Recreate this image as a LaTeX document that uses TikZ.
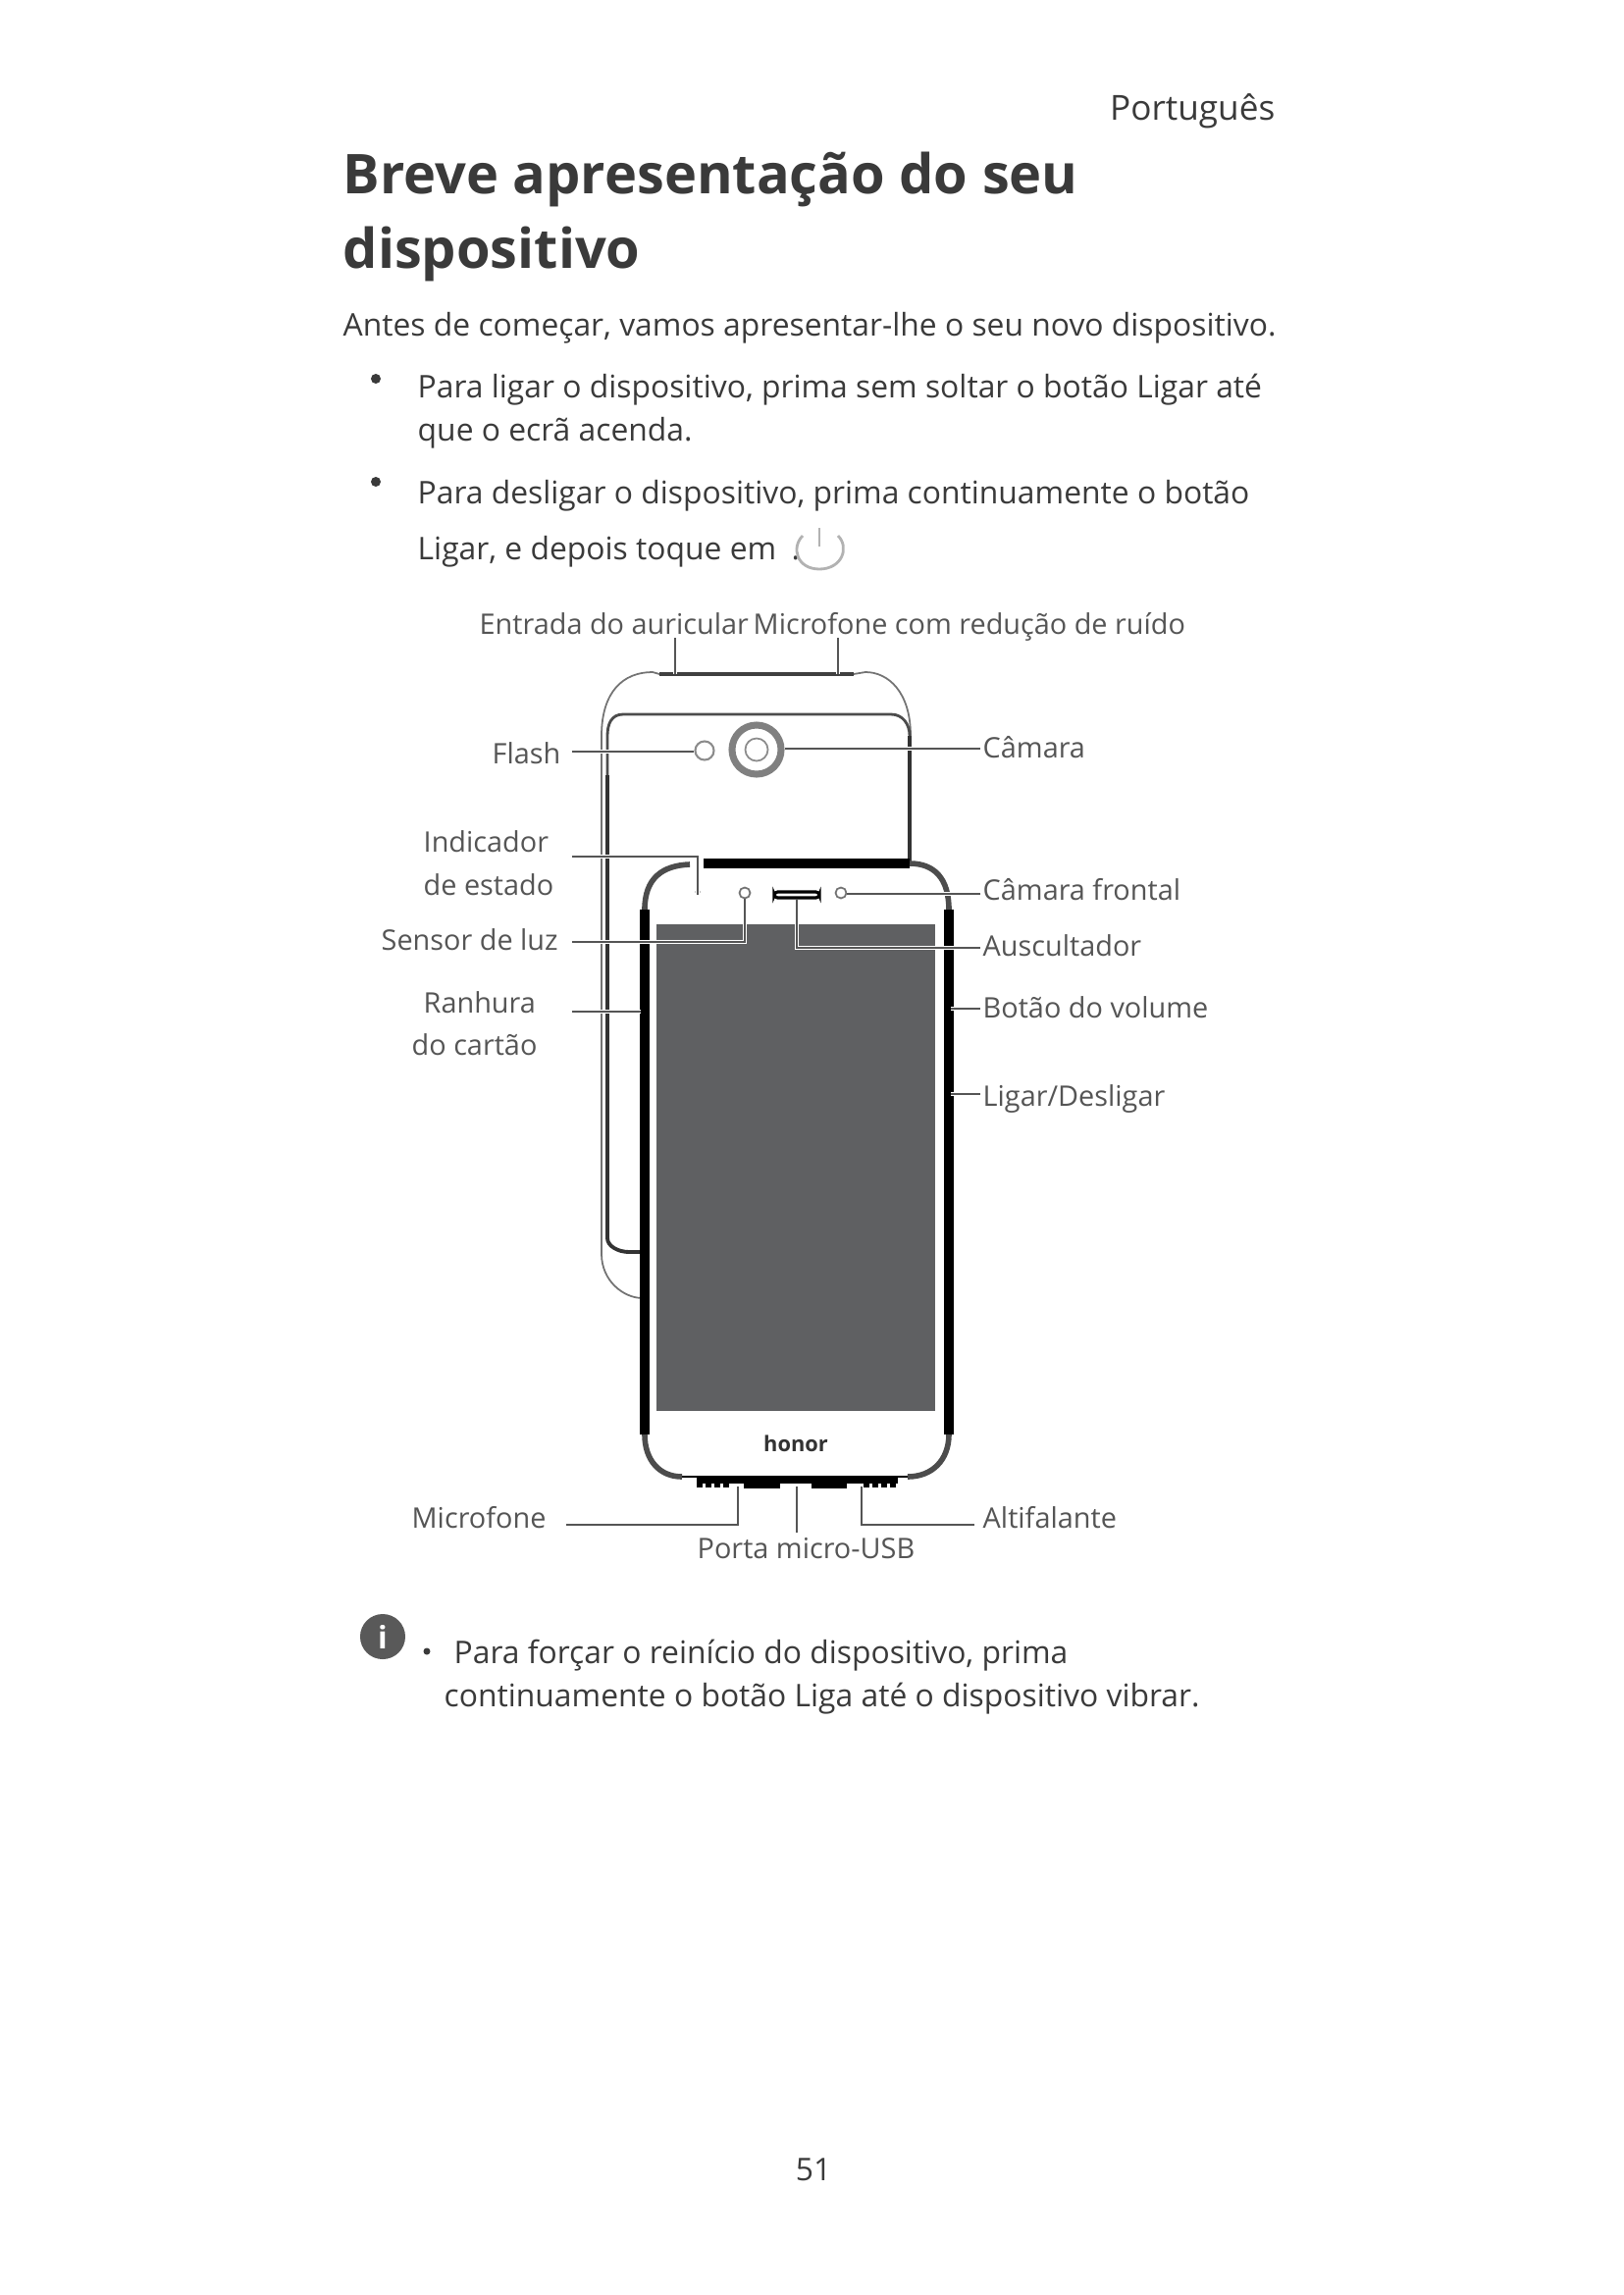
\documentclass[tikz,border=0pt]{standalone}
\usepackage{fontspec}
\setmainfont{Open Sans}
\usetikzlibrary{arrows.meta,positioning,calc}
\definecolor{bodyc}{HTML}{3A3A3A}
\definecolor{labelc}{HTML}{555555}
\definecolor{screenc}{HTML}{5F6062}
\tikzset{
 bodytxt/.style={anchor=base west,inner sep=0pt,text=bodyc,font=\fontsize{9.05pt}{10pt}\selectfont},
 labeltxt/.style={anchor=base west,inner sep=0pt,text=labelc,font=\fontsize{8.2pt}{10pt}\selectfont},
 titletxt/.style={anchor=base west,inner sep=0pt,text=bodyc,font=\fontsize{15.9pt}{16pt}\selectfont\bfseries},
 leader/.style={draw=labelc,line width=0.6pt,preaction={draw=white,line width=1.4pt}},
 thinline/.style={draw=black!55,line width=0.5pt},
 frame/.style={draw=black,line width=2.6pt},
 corner/.style={draw=black!70,line width=1.6pt},
 ringpart/.style={circle,draw=black!55,line width=0.5pt,inner sep=0pt},
 dotbullet/.style={circle,fill=bodyc,inner sep=0pt,minimum size=0.1cm}
}
\begin{document}
\begin{tikzpicture}[x=0.01cm,y=-0.01cm]
\useasboundingbox (0,0) rectangle (1654,2339);
% page text
\node[bodytxt,anchor=base east,font=\fontsize{10pt}{10pt}\selectfont] (lang) at (1300,122) {Português};
\node[titletxt] (title1) at (349,197) {Breve apresentação do seu};
\node[titletxt] (title2) at (349,273) {dispositivo};
\node[bodytxt] (intro) at (349,342) {Antes de começar, vamos apresentar-lhe o seu novo dispositivo.};
\foreach \n/\y/\t in {on1/405/{Para ligar o dispositivo, prima sem soltar o botão Ligar até},on2/449/{que o ecrã acenda.},off1/513/{Para desligar o dispositivo, prima continuamente o botão},off2/570/{Ligar, e depois toque em}}
 { \node[bodytxt] (\n) at (425,\y) {\t}; }
\node[dotbullet] (bullet1) at (383,386) {};
\node[dotbullet] (bullet2) at (383,491) {};
\node[bodytxt] (stop) at (806,570) {.};
% power icon
\draw[black!30,line width=0.8pt] (818,546) .. controls (806,558) and (812,580) .. (835,580) .. controls (858,580) and (866,558) .. (854,546);
\draw[black!30,line width=0.8pt] (835,538) -- (835,557);
% back of the phone
\draw[thinline] (613,1278) -- (613,750) .. controls (613,705) and (635,685) .. (665,685) -- (672,687);
\draw[thinline] (870,687) -- (882,685) .. controls (905,685) and (928,705) .. (928,750);
\draw[black!75,line width=1pt] (672,687) -- (870,687);
\draw[black!70,line width=0.8pt] (619,790) -- (619,750) .. controls (619,738) and (623,728) .. (635,728) -- (908,728) .. controls (920,728) and (927,738) .. (927,750);
\draw[black!80,line width=1.1pt] (619,790) -- (619,1262) .. controls (619,1270) and (630,1276) .. (641,1276) -- (655,1276);
\draw[black!80,line width=1.4pt] (927,750) -- (927,880);
\draw[thinline] (613,1278) .. controls (613,1305) and (635,1323) .. (655,1323);
\node[circle,draw=black!45,line width=0.6pt,inner sep=0pt,minimum size=0.19cm] (flash) at (718,765) {};
\node[circle,draw=black!50,line width=2pt,inner sep=0pt,minimum size=0.5cm] (cam) at (771,764) {};
\node[circle,draw=black!45,line width=0.5pt,inner sep=0pt,minimum size=0.23cm] (camlens) at (771,764) {};
% front of the phone
\fill[white] (657,927) .. controls (657,895) and (675,880) .. (703,880) -- (927,880) .. controls (952,880) and (967,895) .. (967,927) -- (967,1462) .. controls (967,1488) and (950,1505) .. (925,1505) -- (695,1505) .. controls (672,1505) and (657,1488) .. (657,1462) -- cycle;
\draw[frame] (657,927) -- (657,1462);
\draw[frame] (967,927) -- (967,1462);
\draw[draw=black,line width=2.8pt] (717,880) -- (927,880);
\draw[corner] (657,927) .. controls (657,895) and (675,882) .. (703,881);
\draw[corner] (927,880) .. controls (952,880) and (967,895) .. (967,927);
\draw[corner] (657,1462) .. controls (657,1488) and (672,1505) .. (695,1505);
\draw[corner] (925,1505) .. controls (950,1505) and (967,1488) .. (967,1462);
\draw[draw=black,line width=0.8pt] (695,1505) -- (925,1505);
\draw[draw=black,line width=1.6pt] (710,1509) -- (915,1509);
\draw[draw=black,line width=2.4pt] (758,1513) -- (795,1513);
\draw[draw=black,line width=2.4pt] (827,1513) -- (863,1513);
\draw[black,line width=1.3pt,dash pattern=on 1.6pt off 1pt] (710,1514) -- (745,1514);
\draw[black,line width=1.3pt,dash pattern=on 1.6pt off 1pt] (880,1514) -- (915,1514);
\fill[screenc] (669,942) rectangle (953,1438);
\node[circle,fill=black!70,inner sep=0pt,minimum size=0.05cm] (led) at (711,909) {};
\node[ringpart,minimum size=0.11cm] (sensor) at (759,910) {};
\node[draw=black,fill=white,line width=0.9pt,rounded corners=1pt,inner sep=0pt,minimum width=0.46cm,minimum height=0.06cm] (ear) at (812,912) {};
\node[ringpart,minimum size=0.11cm] (frontcam) at (857,910) {};
\node[inner sep=0pt,text=black!80,font=\fontsize{6.2pt}{8pt}\selectfont\bfseries] (logo) at (811,1471) {honor};
% labels
\foreach \n/\x/\y/\t in {lentrada/488/646/{Entrada do auricular},lmicnoise/767/646/{Microfone com redução de ruído},lflash/501/778/{Flash},lcam/1001/772/{Câmara},lind1/431/868/{Indicador},lind2/431/912/{de estado},lsensor/388/968/{Sensor de luz},lran1/431/1032/{Ranhura},lran2/419/1075/{do cartão},lfront/1001/917/{Câmara frontal},lear/1001/974/{Auscultador},lvol/1001/1037/{Botão do volume},lpower/1001/1127/{Ligar/Desligar},lmic/419/1557/{Microfone},lspk/1001/1557/{Altifalante},lusb/710/1588/{Porta micro-USB}}
 { \node[labeltxt] (\n) at (\x,\y) {\t}; }
% free ends of the leaders
\foreach \n/\x/\y in {sflash/583/766,scam/999/763,sind/583/873,sfront/999/911,ssensor/583/960,sear/999/966,sran/583/1031,eran/653/1031,svol/999/1028,evol/969/1028,spow/999/1115,epow/969/1115,sent/688/650,eent/688/687,smn/854/650,emn/854/687,smic/577/1554,emic/752/1515,susb/812/1562,eusb/812/1515,sspk/993/1554,espk/878/1515}
 { \coordinate (\n) at (\x,\y); }
\draw[leader] (sflash) -- (flash.west |- sflash);
\draw[leader] (scam) -- (cam.east |- scam);
\draw[leader] (sind) -| (led.south);
\draw[leader] (sfront) -- (frontcam.east |- sfront);
\draw[leader] (ssensor) -| (sensor.south);
\draw[leader] (sear) -| (ear.south);
\draw[leader] (sran) -- (eran);
\draw[leader] (svol) -- (evol);
\draw[leader] (spow) -- (epow);
\draw[leader] (sent) -- (eent);
\draw[leader] (smn) -- (emn);
\draw[leader] (smic) -| (emic);
\draw[leader] (susb) -- (eusb);
\draw[leader] (sspk) -| (espk);
% note
\node[circle,fill=black!65,inner sep=0pt,minimum size=0.46cm,text=white,font=\fontsize{9pt}{10pt}\selectfont\bfseries] (info) at (390,1668) {i};
\node[dotbullet,minimum size=0.07cm] (bullet3) at (435,1683) {};
\node[bodytxt] (force1) at (462,1695) {Para forçar o reinício do dispositivo, prima};
\node[bodytxt] (force2) at (452,1739) {continuamente o botão Liga até o dispositivo vibrar.};
\node[bodytxt,anchor=base] (pageno) at (829,2222) {51};
\end{tikzpicture}
\end{document}
